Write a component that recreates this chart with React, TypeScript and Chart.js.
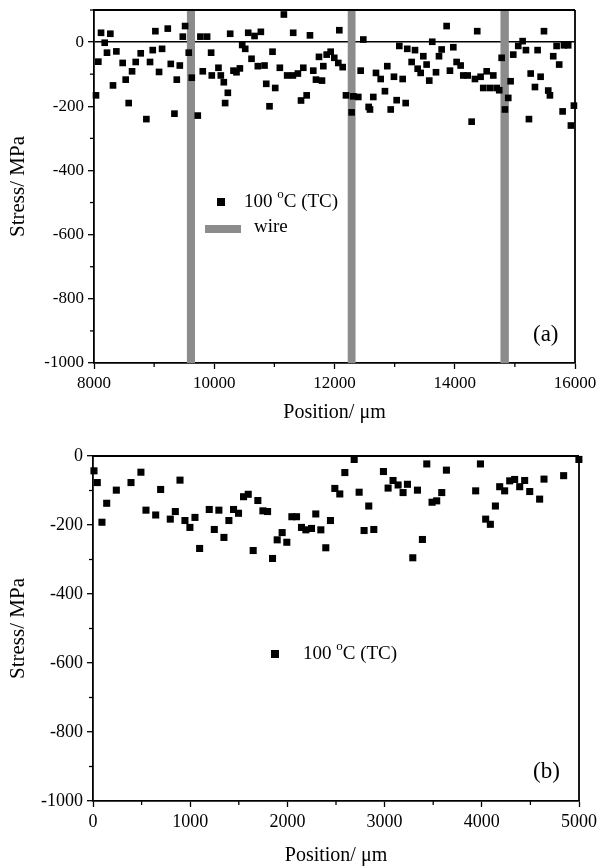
import React, { useEffect, useRef } from 'react';
import { Chart, registerables } from 'chart.js';

Chart.register(...registerables);

// ---------- DATA ----------
// Panel (a): position (µm) and stress (MPa)
const posA = [8033, 8072, 8117, 8178, 8216, 8272, 8316, 8372, 8477, 8527, 8577, 8633, 8694, 8777, 8871, 8932, 8977, 9021, 9082, 9132, 9227, 9277, 9338, 9377, 9427, 9477, 9515, 9576, 9626, 9726, 9770, 9809, 9881, 9948, 9959, 10070, 10109, 10159, 10181, 10226, 10265, 10320, 10370, 10426, 10465, 10515, 10565, 10620, 10670, 10725, 10775, 10836, 10865, 10919, 10969, 11014, 11091, 11158, 11213, 11313, 11308, 11391, 11443, 11481, 11537, 11592, 11647, 11692, 11742, 11792, 11814, 11870, 11936, 11996, 12063, 12080, 12136, 12191, 12285, 12313, 12396, 12435, 12479, 12568, 12590, 12645, 12690, 12768, 12839, 12878, 12935, 12989, 13034, 13078, 13134, 13184, 13210, 13283, 13339, 13383, 13433, 13477, 13532, 13576, 13626, 13688, 13738, 13782, 13865, 13920, 13976, 14031, 14098, 14142, 14215, 14281, 14336, 14374, 14430, 14474, 14531, 14586, 14641, 14697, 14740, 14780, 14835, 14890, 14929, 14973, 15056, 15129, 15184, 15234, 15263, 15334, 15378, 15428, 15484, 15555, 15583, 15638, 15694, 15737, 15794, 15816, 15887, 15932, 15982];
const stressA = [-166, -61, 29, -2, -33, 26, -135, -29, -65, -117, -190, -91, -62, -35, -240, -62, -25, 34, -93, -21, 42, -68, -223, -117, -73, 17, 50, -33, -111, -229, 17, -91, 17, -33, -104, -80, -104, -125, -190, -158, 26, -89, -94, -82, -9, -21, 29, -52, 19, -75, 32, -73, -130, -200, -30, -143, -80, 86, -104, 29, -104, -98, -182, -80, -166, 21, -89, -117, -46, -120, -75, -39, -30, -49, -65, 37, -78, -166, -219, -169, -171, -89, 8, -202, -210, -171, -96, -115, -153, -75, -210, -108, -181, -12, -115, -190, -21, -62, -25, -83, -96, -44, -70, -120, 1, -94, -44, -23, 50, -89, -16, -62, -73, -104, -104, -248, -115, 34, -108, -143, -91, -143, -104, -143, -150, -49, -210, -174, -122, -39, -12, 3, -25, -240, -98, -140, -25, -108, 34, -151, -166, -44, -12, -70, -216, -10, -10, -260, -198];

// Wire positions (µm) in panel (a)
const wireStart = [9545, 12220, 14760];
const wireEnd = [9680, 12350, 14900];

// Panel (b)
const posB = [10, 44, 92, 141, 240, 391, 493, 545, 645, 696, 795, 847, 895, 946, 997, 1049, 1097, 1196, 1248, 1295, 1347, 1398, 1446, 1497, 1549, 1597, 1648, 1696, 1748, 1796, 1847, 1895, 1946, 1994, 2046, 2094, 2145, 2190, 2248, 2292, 2344, 2395, 2443, 2488, 2539, 2591, 2687, 2738, 2789, 2837, 2889, 2988, 3036, 3087, 3139, 3190, 3235, 3290, 3338, 3389, 3434, 3488, 3536, 3588, 3636, 3937, 3986, 4040, 4088, 4140, 4184, 4235, 4287, 4338, 4390, 4441, 4493, 4595, 4640, 4842, 4999];
const stressB = [-43, -77, -192, -137, -99, -77, -47, -157, -171, -97, -183, -161, -70, -187, -207, -178, -268, -155, -213, -157, -236, -187, -155, -166, -118, -111, -274, -129, -159, -161, -297, -243, -222, -250, -176, -176, -207, -214, -210, -168, -214, -266, -187, -94, -110, -48, -10, -105, -216, -145, -213, -45, -93, -71, -84, -106, -82, -295, -99, -242, -23, -134, -130, -106, -41, -101, -23, -183, -198, -145, -89, -101, -72, -68, -89, -71, -103, -125, -67, -57, -10];

// Axis ranges / tick steps
const xRangeA = [8000, 16000];
const xStepsA = [1000, 2000]; // minor, major
const xRangeB = [0, 5000];
const xStepsB = [500, 1000];
const yRange = [-1000, 100];
const yRangeB = [-1000, 0];
const ySteps = [100, 200];

const xTitle = 'Position/ μm';
const yTitle = 'Stress/ MPa';
const seriesLabel = ['100 ', 'o', 'C (TC)'];
const wireLabel = 'wire';

// ---------- STYLE ----------
const FONT = "'Liberation Serif', 'Times New Roman', Times, serif";
const W = 600;

type Panel = {
  xs: number[];
  ys: number[];
  xRange: number[];
  xSteps: number[];
  yRange: number[];
  ySteps: number[];
  H: number;
  area: { left: number; right: number; top: number; bottom: number };
  titlePadBottom: number;
  tickFont: number;
  bands?: { start: number[]; end: number[] };
  zeroLine: boolean;
  legend: { sqX: number; sqY: number; textX: number; wire?: { x0: number; x1: number; y: number; textX: number } };
  tag: string;
  tagPos: [number, number];
  radius: number;
};

function drawSeriesLabel(ctx: CanvasRenderingContext2D, x: number, y: number) {
  ctx.textBaseline = 'middle';
  ctx.textAlign = 'left';
  ctx.font = `19px ${FONT}`;
  ctx.fillText(seriesLabel[0], x, y);
  let w = ctx.measureText(seriesLabel[0]).width;
  ctx.font = `13px ${FONT}`;
  ctx.fillText(seriesLabel[1], x + w, y - 7);
  w += ctx.measureText(seriesLabel[1]).width;
  ctx.font = `19px ${FONT}`;
  ctx.fillText(seriesLabel[2], x + w, y);
}

function makeChart(canvas: HTMLCanvasElement, p: Panel) {
  const line = (ctx: CanvasRenderingContext2D, x0: number, y0: number, x1: number, y1: number) => {
    ctx.beginPath();
    ctx.moveTo(x0, y0);
    ctx.lineTo(x1, y1);
    ctx.stroke();
  };
  const decor = {
    id: 'decor',
    beforeDatasetsDraw(chart: any) {
      if (!p.bands) return;
      const { ctx, chartArea, scales } = chart;
      ctx.save();
      ctx.fillStyle = '#8c8c8c';
      p.bands.start.forEach((s, i) => {
        const x0 = scales.x.getPixelForValue(s);
        const x1 = scales.x.getPixelForValue(p.bands!.end[i]);
        ctx.fillRect(x0, chartArea.top, x1 - x0, chartArea.bottom - chartArea.top);
      });
      ctx.restore();
    },
    afterDraw(chart: any) {
      const { ctx, chartArea, scales } = chart;
      const { left, right, top, bottom } = chartArea;
      ctx.save();
      ctx.strokeStyle = '#000';
      ctx.lineWidth = 1.3;
      scales.x.ticks.forEach((t: any) => {
        if (t.value % p.xSteps[1] !== 0) {
          const px = scales.x.getPixelForValue(t.value);
          line(ctx, px, bottom, px, bottom + 4);
        }
      });
      scales.y.ticks.forEach((t: any) => {
        if (t.value % p.ySteps[1] !== 0) {
          const py = scales.y.getPixelForValue(t.value);
          line(ctx, left - 4, py, left, py);
        }
      });
      ctx.lineWidth = 1.8;
      line(ctx, left, top, right, top);
      line(ctx, right, top, right, bottom);

      // legend
      ctx.fillStyle = '#000';
      ctx.fillRect(p.legend.sqX - 4, p.legend.sqY - 4, 8, 8);
      drawSeriesLabel(ctx, p.legend.textX, p.legend.sqY);
      if (p.legend.wire) {
        const w = p.legend.wire;
        ctx.fillStyle = '#8c8c8c';
        ctx.fillRect(w.x0, w.y - 4, w.x1 - w.x0, 8);
        ctx.fillStyle = '#000';
        ctx.font = `19px ${FONT}`;
        ctx.textBaseline = 'middle';
        ctx.fillText(wireLabel, w.textX, w.y - 2);
      }
      // panel tag
      ctx.font = `23px ${FONT}`;
      ctx.textBaseline = 'middle';
      ctx.textAlign = 'left';
      ctx.fillText(p.tag, p.tagPos[0], p.tagPos[1]);
      ctx.restore();
    },
  };

  const fixPad = (s: any) => {
    s.paddingLeft = 0;
    s.paddingRight = 0;
    s.paddingTop = 0;
    s.paddingBottom = 0;
  };

  return new Chart(canvas, {
    type: 'scatter',
    data: {
      datasets: [
        {
          data: p.xs.map((x, i) => ({ x, y: p.ys[i] })),
          pointStyle: 'rect',
          pointRadius: p.radius,
          pointHoverRadius: p.radius,
          backgroundColor: '#000',
          borderColor: '#000',
          borderWidth: 0,
          clip: false as any,
        },
      ],
    },
    options: {
      animation: false,
      responsive: false,
      events: [],
      layout: { padding: { left: 0, top: p.area.top, right: W - p.area.right, bottom: 0 } },
      plugins: { legend: { display: false }, tooltip: { enabled: false } },
      scales: {
        x: {
          type: 'linear',
          min: p.xRange[0],
          max: p.xRange[1],
          border: { display: true, color: '#000', width: 1.8 },
          grid: {
            display: true,
            drawOnChartArea: false,
            drawTicks: true,
            tickLength: 6,
            tickWidth: 1.3,
            tickColor: (c: any) => (c.tick && c.tick.value % p.xSteps[1] === 0 ? '#000' : 'rgba(0,0,0,0)'),
          },
          ticks: {
            stepSize: p.xSteps[0],
            autoSkip: false,
            maxRotation: 0,
            padding: 4,
            color: '#000',
            font: { family: FONT, size: p.tickFont },
            callback: (v: any) => (Number(v) % p.xSteps[1] === 0 ? String(v) : ''),
          },
          title: {
            display: true,
            text: xTitle,
            color: '#000',
            font: { family: FONT, size: 20 },
            padding: { top: 0, bottom: p.titlePadBottom },
          },
          afterFit: (s: any) => {
            s.height = p.H - p.area.bottom;
            fixPad(s);
          },
        },
        y: {
          type: 'linear',
          min: p.yRange[0],
          max: p.yRange[1],
          border: { display: true, color: '#000', width: 1.8 },
          grid: {
            display: true,
            drawOnChartArea: p.zeroLine,
            drawTicks: true,
            tickLength: 6,
            tickWidth: 1.3,
            lineWidth: 1.4,
            color: (c: any) => (c.tick && c.tick.value === 0 ? '#000' : 'rgba(0,0,0,0)'),
            tickColor: (c: any) => (c.tick && c.tick.value % p.ySteps[1] === 0 ? '#000' : 'rgba(0,0,0,0)'),
          },
          ticks: {
            stepSize: p.ySteps[0],
            autoSkip: false,
            padding: 4,
            color: '#000',
            font: { family: FONT, size: p.tickFont },
            callback: (v: any) => (Number(v) % p.ySteps[1] === 0 ? String(v) : ''),
          },
          title: {
            display: true,
            text: yTitle,
            color: '#000',
            font: { family: FONT, size: 21 },
            padding: { top: 6, bottom: 0 },
          },
          afterFit: (s: any) => {
            s.width = p.area.left;
            fixPad(s);
          },
        },
      },
    },
    plugins: [decor],
  });
}

const panelA: Panel = {
  xs: posA,
  ys: stressA,
  xRange: xRangeA,
  xSteps: xStepsA,
  yRange: yRange,
  ySteps: ySteps,
  H: 430,
  area: { left: 94, right: 575, top: 10, bottom: 363 },
  titlePadBottom: 5,
  tickFont: 17,
  bands: { start: wireStart, end: wireEnd },
  zeroLine: true,
  legend: { sqX: 221, sqY: 202, textX: 244, wire: { x0: 205, x1: 241, y: 229, textX: 254 } },
  tag: '(a)',
  tagPos: [533, 335],
  radius: 4.7,
};

const panelB: Panel = {
  xs: posB,
  ys: stressB,
  xRange: xRangeB,
  xSteps: xStepsB,
  yRange: yRangeB,
  ySteps: ySteps,
  H: 438,
  area: { left: 93, right: 579, top: 26, bottom: 371 },
  titlePadBottom: 0,
  tickFont: 18,
  zeroLine: false,
  legend: { sqX: 275, sqY: 224, textX: 303 },
  tag: '(b)',
  tagPos: [533, 342],
  radius: 5,
};

function ChartCanvas({ panel, top }: { panel: Panel; top: number }) {
  const ref = useRef<HTMLCanvasElement | null>(null);
  useEffect(() => {
    if (!ref.current) return;
    const chart = makeChart(ref.current, panel);
    return () => chart.destroy();
  }, [panel]);
  return (
    <canvas
      ref={ref}
      width={W}
      height={panel.H}
      style={{ position: 'absolute', left: 0, top, width: W, height: panel.H, display: 'block' }}
    />
  );
}

export default function App() {
  return (
    <div style={{ position: 'absolute', left: 0, top: 0, width: W, height: 868, background: '#fff' }}>
      <ChartCanvas panel={panelA} top={0} />
      <ChartCanvas panel={panelB} top={430} />
    </div>
  );
}
